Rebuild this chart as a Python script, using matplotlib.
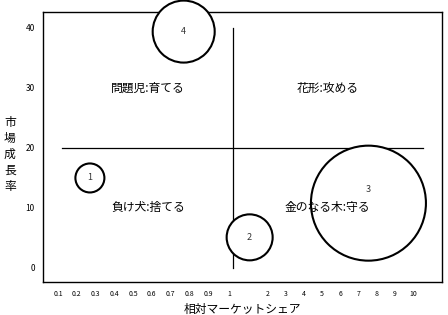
import matplotlib
matplotlib.use('Agg')
import matplotlib.pyplot as plt
import numpy as np

plt.rcParams['font.family'] = ['Noto Sans CJK JP', 'DejaVu Sans']

# Relative market share axis: uneven tick spacing as in the original
tick_vals = [0.1, 0.2, 0.3, 0.4, 0.5, 0.6, 0.7, 0.8, 0.9, 1, 2, 3, 4, 5, 6, 7, 8, 9, 10]
tick_labels = ['0.1', '0.2', '0.3', '0.4', '0.5', '0.6', '0.7', '0.8', '0.9', '1',
               '2', '3', '4', '5', '6', '7', '8', '9', '10']
tick_pos = [0, 1, 2, 3, 4, 5, 6, 7, 8, 9.12,
            11.15, 12.12, 13.1, 14.07, 15.04, 16.01, 16.99, 17.96, 18.93]

# Bubbles
bubble_names = ['1', '2', '3', '4']
bubble_share = [0.27, 1.54, 7.55, 0.77]
bubble_growth = [15, 5.1, 10.8, 39.4]
bubble_size = [436, 1097, 6856, 1993]
name_growth = [15, 5.1, 13.0, 39.4]   # where the number sits inside each bubble

# Quadrant labels
quad_labels = ['問題児:育てる', '花形:攻める', '負け犬:捨てる', '金のなる木:守る']
quad_share = [0.58, 5.3, 0.58, 5.3]
quad_growth = [30, 30, 10, 10]


def share_to_pos(v):
    # piecewise-linear mapping of share values onto the axis, extrapolated past 10
    ext_vals = [0.0] + tick_vals + [12]
    ext_pos = [-1.0] + tick_pos + [tick_pos[-1] + 2 * 0.973]
    return np.interp(v, ext_vals, ext_pos)


fig = plt.figure(figsize=(4.48, 3.15), dpi=100)
ax = fig.add_axes([0.096, 0.105, 0.891, 0.857])

# quadrant dividers
ax.plot(share_to_pos([0.12, 10.55]), [20, 20], color='black', lw=0.9, zorder=1)
ax.plot(share_to_pos([1.1, 1.1]), [0, 40], color='black', lw=0.9, zorder=1)

ax.scatter(share_to_pos(bubble_share), bubble_growth, s=bubble_size,
           facecolor='white', edgecolor='black', linewidth=1.5, zorder=3, clip_on=False)
for name, x, y in zip(bubble_names, bubble_share, name_growth):
    ax.text(share_to_pos(x), y, name, ha='center', va='center', fontsize=6.5,
            color='#333333', zorder=5)

for lab, x, y in zip(quad_labels, quad_share, quad_growth):
    ax.text(share_to_pos(x), y, lab, ha='center', va='center', fontsize=8.5, zorder=4)

ax.set_xlim(-0.8, 20.48)
ax.set_ylim(-2.33, 42.67)
ax.set_xticks(tick_pos)
ax.set_xticklabels(tick_labels, fontsize=5)
ax.set_yticks([0, 10, 20, 30, 40])
ax.set_yticklabels(['0', '10', '20', '30', '40'], fontsize=6)
ax.tick_params(length=0)
ax.tick_params(axis='x', pad=6)
ax.tick_params(axis='y', pad=6)
for sp in ax.spines.values():
    sp.set_linewidth(1.0)
    sp.set_color('black')

ax.set_xlabel('相対マーケットシェア', fontsize=8.5, labelpad=3)
fig.text(0.022, 0.51, '\n'.join('市場成長率'), ha='center', va='center',
         fontsize=8.5, linespacing=1.3)

fig.savefig('out.png', dpi=100)
